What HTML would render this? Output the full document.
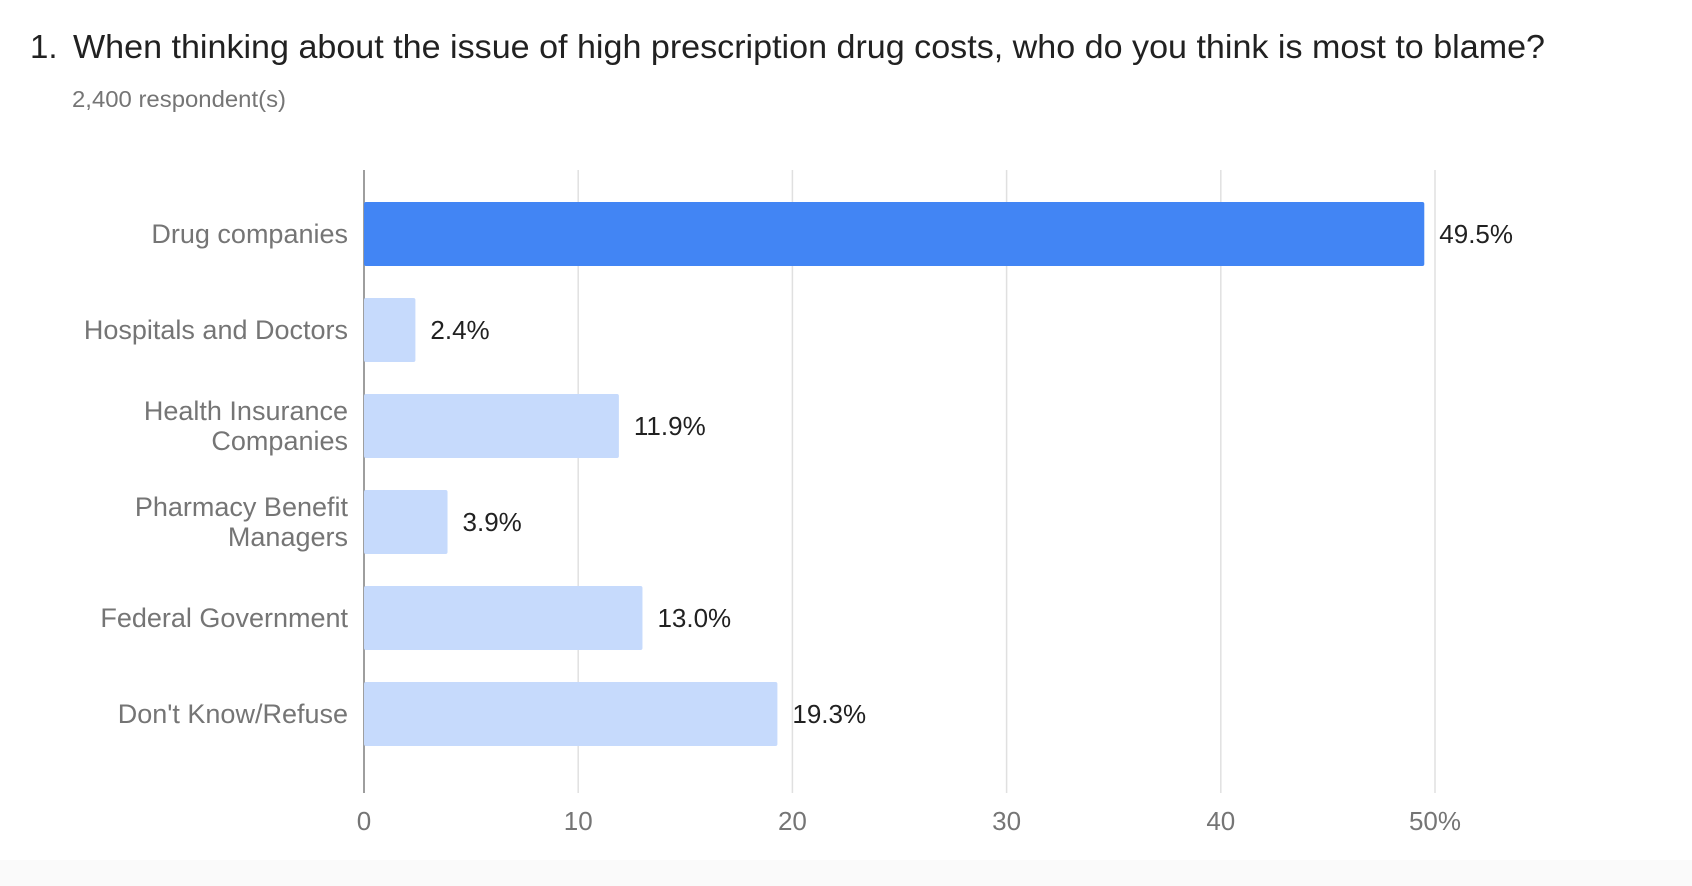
<!DOCTYPE html>
<html><head><meta charset="utf-8"><style>
html,body{margin:0;padding:0;background:#fff;}
svg{display:block;font-family:"Liberation Sans",sans-serif;}
</style></head><body>
<svg id="chart" width="1692" height="886" viewBox="0 0 1692 886">
<rect x="0" y="860" width="1692" height="26" fill="#fafafa"/>
<text x="30" y="58" font-size="33" fill="#212121">1.</text>
<text x="73" y="58" font-size="33" fill="#212121" textLength="1472" lengthAdjust="spacingAndGlyphs">When thinking about the issue of high prescription drug costs, who do you think is most to blame?</text>
<text x="72" y="107" font-size="23" fill="#757575" textLength="214" lengthAdjust="spacingAndGlyphs">2,400 respondent(s)</text>
<g id="grid"></g><g id="bars"></g><g id="labels"></g>
</svg>
<script>
const categories = [["Drug companies"],["Hospitals and Doctors"],["Health Insurance","Companies"],["Pharmacy Benefit","Managers"],["Federal Government"],["Don't Know/Refuse"]];
const values = [49.5, 2.4, 11.9, 3.9, 13.0, 19.3];
const valueLabels = ["49.5%","2.4%","11.9%","3.9%","13.0%","19.3%"];
const ticks = [0,10,20,30,40,50];
const tickLabels = ["0","10","20","30","40","50%"];
const NS="http://www.w3.org/2000/svg";
const x0=364, pxPer=21.42, plotTop=170, plotBottom=793, pitch=96, firstCenter=234, barH=64;
const xs=v=>x0+v*pxPer, yc=i=>firstCenter+i*pitch;
function mk(tag,attrs,parent){const e=document.createElementNS(NS,tag);for(const k in attrs)e.setAttribute(k,attrs[k]);parent.appendChild(e);return e;}
const grid=document.getElementById('grid'),bars=document.getElementById('bars'),labels=document.getElementById('labels');
ticks.forEach((t,i)=>{
  if(i>0){const l=mk('line',{x1:xs(t),x2:xs(t),y1:plotTop,y2:plotBottom,stroke:'#e0e0e0','stroke-width':1.5},grid);
  
  }
  const tx=mk('text',{x:xs(t),y:830,'font-size':26,fill:'#757575','text-anchor':'middle'},grid);
  tx.textContent=tickLabels[i];
  
  
});
values.forEach((v,i)=>{
  const r=mk('rect',{x:x0,y:yc(i)-barH/2,width:xs(v)-x0,height:barH,rx:2,fill:i===0?'#4285f4':'#c6dafc'},bars);
  
  
  const vt=mk('text',{x:xs(v)+15,y:yc(i)+9,'font-size':26,fill:'#212121'},labels);
  vt.textContent=valueLabels[i];
  
  
  const lines=categories[i];
  lines.forEach((ln,j)=>{
    const y=yc(i)+9+(j-(lines.length-1)/2)*30;
    const ct=mk('text',{x:348,y:y,'font-size':27,fill:'#757575','text-anchor':'end'},labels);
    ct.textContent=ln;
    
    
  });
});
const ax=mk('line',{x1:x0,x2:x0,y1:plotTop,y2:plotBottom,stroke:'#9e9e9e','stroke-width':2},grid);


</script>
</body></html>
